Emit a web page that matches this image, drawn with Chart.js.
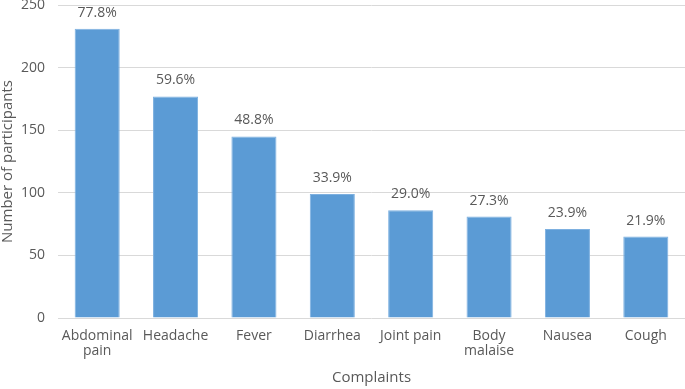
<!DOCTYPE html>
<html>
<head>
<meta charset="utf-8">
<script src="https://cdn.jsdelivr.net/npm/chart.js@4"></script>
<style>
html,body{margin:0;padding:0;background:#fff;}
#wrap{width:685px;height:389px;}
</style>
</head>
<body>
<div id="wrap"><canvas id="c" width="685" height="389"></canvas></div>
<script>
const categories = [["Abdominal","pain"],"Headache","Fever","Diarrhea","Joint pain",["Body","malaise"],"Nausea","Cough"];
const participants = [231, 177, 145, 99, 86, 81, 71, 65];
const percentLabels = ["77.8%","59.6%","48.8%","33.9%","29.0%","27.3%","23.9%","21.9%"];
const yTicks = [0, 50, 100, 150, 200, 250];

const FONT = "'Open Sans', 'Liberation Sans', sans-serif";
const TXT = "#595959";

const pctPlugin = {
  id: 'pct',
  afterDatasetsDraw(chart) {
    const ctx = chart.ctx;
    const meta = chart.getDatasetMeta(0);
    ctx.save();
    ctx.font = "14px " + FONT;
    ctx.fillStyle = TXT;
    ctx.textAlign = 'center';
    ctx.textBaseline = 'middle';
    meta.data.forEach((bar, i) => {
      ctx.fillText(percentLabels[i], bar.x, bar.y - 16);
    });
    ctx.restore();
  }
};

new Chart(document.getElementById('c'), {
  type: 'bar',
  data: {
    labels: categories,
    datasets: [{
      data: participants,
      backgroundColor: '#5B9BD5',
      borderColor: '#7DB0E0',
      borderWidth: 1,
      categoryPercentage: 1.0,
      barPercentage: 0.575
    }]
  },
  options: {
    responsive: false,
    animation: false,
    layout: { padding: { top: 5, right: 0, left: 0, bottom: 0 } },
    plugins: { legend: { display: false }, tooltip: { enabled: false } },
    scales: {
      x: {
        afterFit(axis) { axis.height = 71; axis.paddingLeft = 0; axis.paddingRight = 0; },
        grid: { display: false, drawTicks: false },
        border: { display: false },
        ticks: { color: TXT, font: { size: 14, family: FONT, lineHeight: 1.07 }, padding: 11, maxRotation: 0, autoSkip: false },
        title: { display: true, text: 'Complaints', color: TXT, font: { size: 15, family: FONT }, padding: { top: 0, bottom: 2 } }
      },
      y: {
        min: 0, max: 250,
        afterBuildTicks(axis) { axis.ticks = yTicks.map(v => ({ value: v })); },
        afterFit(axis) { axis.width = 58; axis.paddingTop = 0; axis.paddingBottom = 0; },
        grid: { color: '#D9D9D9', lineWidth: 1, drawTicks: false },
        border: { display: false },
        ticks: { color: TXT, font: { size: 14, family: FONT }, padding: 13 },
        title: { display: true, text: 'Number of participants', color: TXT, font: { size: 15, family: FONT, lineHeight: 1.0 }, padding: { top: 0, bottom: 0 } }
      }
    }
  },
  plugins: [pctPlugin]
});
</script>
</body>
</html>
